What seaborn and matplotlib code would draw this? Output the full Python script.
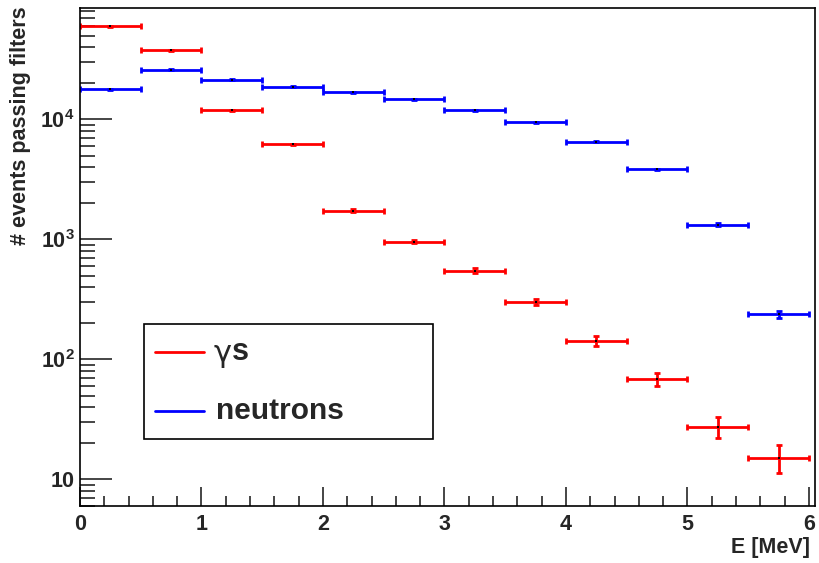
import numpy as np
import pandas as pd
import matplotlib
matplotlib.use("Agg")
import matplotlib.pyplot as plt
import seaborn as sns
from matplotlib.patches import Rectangle
from matplotlib.lines import Line2D
from matplotlib.ticker import FixedLocator, NullFormatter, MultipleLocator

# ---- data ----
bin_lo = [0.0, 0.5, 1.0, 1.5, 2.0, 2.5, 3.0, 3.5, 4.0, 4.5, 5.0, 5.5]
bin_hi = [0.5, 1.0, 1.5, 2.0, 2.5, 3.0, 3.5, 4.0, 4.5, 5.0, 5.5, 6.0]
gammas = [59600, 37600, 11900, 6200, 1740, 960, 550, 300, 143, 69, 27.5, 15.2]
gammas_err = [244, 194, 109, 79, 42, 31, 23, 17, 13, 8.5, 5.5, 4.0]
neutrons = [17800, 26000, 21500, 18800, 16800, 14700, 11900, 9440, 6550, 3830, 1330, 237]
neutrons_err = [133, 161, 147, 137, 130, 121, 109, 97, 81, 62, 36, 15]
series_labels = ["\u03b3s", "neutrons"]
ytick_vals = [10, 100, 1000, 10000]
ytick_labels = ["10", r"$\mathbf{10^{2}}$", r"$\mathbf{10^{3}}$", r"$\mathbf{10^{4}}$"]
xlabel = "E [MeV]"
ylabel = "# events passing filters"

sns.set_style("white")
plt.rcParams["font.family"] = ["Liberation Sans", "DejaVu Sans"]
plt.rcParams["mathtext.fontset"] = "custom"
plt.rcParams["mathtext.rm"] = "Liberation Sans:bold"
plt.rcParams["mathtext.bf"] = "Liberation Sans:bold"
plt.rcParams["mathtext.it"] = "Liberation Sans:bold"

W, H = 819, 563
fig = plt.figure(figsize=(W / 100, H / 100), dpi=100)
L, R, T, B = 80, 815, 8, 506
ax = fig.add_axes([L / W, 1 - B / H, (R - L) / W, (B - T) / H])

colors = {"\u03b3s": "#ff0000", "neutrons": "#0000ff"}
rows = []
for name, vals, errs in [("\u03b3s", gammas, gammas_err), ("neutrons", neutrons, neutrons_err)]:
    for lo, hi, v, e in zip(bin_lo, bin_hi, vals, errs):
        rows.append({"series": name, "x": (lo + hi) / 2, "xerr": (hi - lo) / 2, "y": v, "yerr": e})
df = pd.DataFrame(rows)

for name in series_labels:
    d = df[df.series == name]
    ax.errorbar(d.x, d.y, xerr=d.xerr, yerr=d.yerr, fmt="none", ecolor=colors[name],
                elinewidth=2.0, capsize=2.5, capthick=2.0)
sns.scatterplot(data=df, x="x", y="y", color="black", s=3, marker="s", linewidth=0,
                ax=ax, legend=False, zorder=5)

ax.set_yscale("log")
ax.set_xlim(0, 6.05)
ax.set_ylim(6.0, 8.5e4)

# ticks
ax.set_yticks(ytick_vals)
ax.set_yticklabels(ytick_labels)
minor = [m * 10 ** k for k in range(0, 5) for m in range(2, 10)]
ax.yaxis.set_minor_locator(FixedLocator(minor))
ax.yaxis.set_minor_formatter(NullFormatter())
ax.xaxis.set_major_locator(MultipleLocator(1))
ax.xaxis.set_minor_locator(MultipleLocator(0.2))
ax.tick_params(axis="y", which="major", direction="in", length=23, width=1.2, labelsize=15.5, pad=4,
               left=True, right=False)
ax.tick_params(axis="y", which="minor", direction="in", length=11, width=1.2, left=True, right=False)
ax.tick_params(axis="x", which="major", direction="in", length=14, width=1.2, labelsize=15.5, pad=6,
               bottom=True, top=False)
ax.tick_params(axis="x", which="minor", direction="in", length=7, width=1.2, bottom=True, top=False)
for lab in ax.get_xticklabels() + ax.get_yticklabels():
    lab.set_fontweight("bold")

for s in ax.spines.values():
    s.set_linewidth(1.2)
    s.set_color("black")

ax.set_xlabel("")
ax.set_ylabel("")
fig.text(810 / W, 1 - 548 / H, xlabel, ha="right", va="center", fontsize=15.5, fontweight="bold")
fig.text(21 / W, 1 - 126 / H, ylabel, ha="center", va="center", rotation=90, fontsize=15.5,
         fontweight="bold")

# legend box (axes fraction)
def ax_xy(px, py):
    return (px - L) / (R - L), (B - py) / (B - T)

x0, y0 = ax_xy(144, 439)
x1, y1 = ax_xy(433, 324)
ax.add_patch(Rectangle((x0, y0), x1 - x0, y1 - y0, transform=ax.transAxes, fill=True,
                       facecolor="white", edgecolor="black", linewidth=1.2, zorder=6))
for name, py in [("\u03b3s", 352), ("neutrons", 411)]:
    lx0, ly = ax_xy(155, py)
    lx1, _ = ax_xy(204, py)
    ax.add_line(Line2D([lx0, lx1], [ly, ly], transform=ax.transAxes, color=colors[name],
                       linewidth=2.0, zorder=7))
    tx, _ = ax_xy(216, py)
    if name == "\u03b3s":
        tg, tyg = ax_xy(214, py + 2)
        ax.text(tg, tyg, name[0], transform=ax.transAxes, ha="left", va="center", fontsize=22,
                family=["DejaVu Sans"], fontweight="normal", zorder=7)
        ts, _ = ax_xy(232, py)
        ax.text(ts, ly, name[1:], transform=ax.transAxes, ha="left", va="center", fontsize=22,
                fontweight="bold", zorder=7)
    else:
        ax.text(tx, ly, name, transform=ax.transAxes, ha="left", va="center", fontsize=21.5,
                fontweight="bold", zorder=7)

fig.savefig("out.png", dpi=100, facecolor="white")
